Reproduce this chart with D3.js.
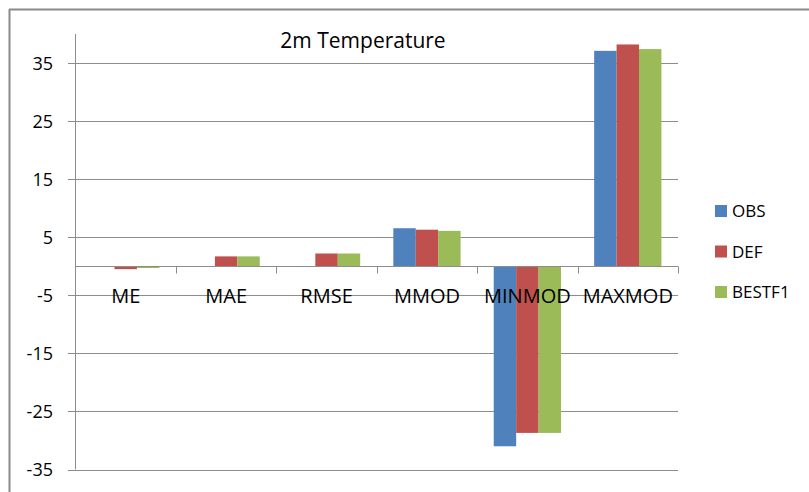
<!DOCTYPE html>
<html><head><meta charset="utf-8">
<script src="https://cdn.jsdelivr.net/npm/d3@7"></script>
<style>body{margin:0;background:#fff}svg{display:block}text{font-family:"Open Sans",sans-serif;fill:#000}</style>
</head><body>
<svg id="c" width="809" height="492"></svg>
<script>
const categories = ["ME","MAE","RMSE","MMOD","MINMOD","MAXMOD"];
const seriesNames = ["OBS","DEF","BESTF1"];
const obs    = [0, 0, 0, 6.55, -31.0, 37.1];
const def    = [-0.5, 1.7, 2.2, 6.3, -28.7, 38.2];
const bestf1 = [-0.3, 1.7, 2.2, 6.1, -28.7, 37.4];
const colors = ["#4F81BD","#C0504D","#9BBB59"];
const yTicks = [-35,-25,-15,-5,5,15,25,35];
const title = "2m Temperature";

(function(){
const series = [obs, def, bestf1];
const svg = d3.select("#c");
const pL = 75.5, pR = 678, pT = 34, pB = 469.5;

// outer frame
svg.append("line").attr("x1",9).attr("x2",809).attr("y1",9.5).attr("y2",9.5).attr("stroke","#8a8a8a").attr("stroke-width",2);
svg.append("line").attr("x1",9.5).attr("x2",9.5).attr("y1",9).attr("y2",492).attr("stroke","#8a8a8a").attr("stroke-width",2);

const y = d3.scaleLinear().domain([-35,40]).range([pB, pT]);
const x0 = d3.scaleBand().domain(categories).range([pL, pR]).paddingInner(0.33).paddingOuter(0.165);
const x1 = d3.scaleBand().domain(seriesNames).range([0, x0.bandwidth()]);

// gridlines
svg.append("g").selectAll("line").data(yTicks).join("line")
  .attr("x1", 68).attr("x2", pR).attr("y1", d=>Math.round(y(d))+0.5).attr("y2", d=>Math.round(y(d))+0.5)
  .attr("stroke","#8c8c8c").attr("stroke-width",1);

// y axis line
svg.append("line").attr("x1",pL).attr("x2",pL).attr("y1",pT).attr("y2",pB).attr("stroke","#8c8c8c");

// y labels
svg.append("g").selectAll("text").data(yTicks).join("text")
  .attr("x",53).attr("y", d=>y(d)).attr("dy","0.36em").attr("text-anchor","end")
  .attr("font-size",18).text(d=>d);

// bars
const g = svg.append("g");
series.forEach((vals, si) => {
  g.append("g").selectAll("rect").data(vals).join("rect")
    .attr("x", (d,i)=> x0(categories[i]) + x1(seriesNames[si]))
    .attr("width", x1.bandwidth())
    .attr("y", d => y(Math.max(0,d)))
    .attr("height", d => Math.abs(y(d)-y(0)))
    .attr("fill", colors[si]);
});

// category axis at 0
const y0 = Math.round(y(0))+0.5;
svg.append("line").attr("x1",pL).attr("x2",pR).attr("y1",y0).attr("y2",y0).attr("stroke","#8c8c8c");
const step = (pR-pL)/categories.length;
svg.append("g").selectAll("line").data(d3.range(1, categories.length+1)).join("line")
  .attr("x1", d=>Math.round(pL + d*step)+0.5).attr("x2", d=>Math.round(pL + d*step)+0.5)
  .attr("y1", y0).attr("y2", y0+7).attr("stroke","#8c8c8c");

// category labels
svg.append("g").selectAll("text").data(categories).join("text")
  .attr("x", d=> x0(d) + x0.bandwidth()/2).attr("y", 303)
  .attr("text-anchor","middle").attr("font-size",20).text(d=>d);

// title
svg.append("text").attr("x",363).attr("y",48).attr("text-anchor","middle").attr("font-size",21).text(title);

// legend
const lg = svg.append("g").selectAll("g").data(seriesNames).join("g")
  .attr("transform",(d,i)=>`translate(715,${211 + i*40.5})`);
lg.append("rect").attr("x",0).attr("y",-6).attr("width",12).attr("height",12).attr("fill",(d,i)=>colors[i]);
lg.append("text").attr("x",17).attr("y",0).attr("dy","0.36em").attr("font-size",17).text(d=>d);
})();
</script>
</body></html>
